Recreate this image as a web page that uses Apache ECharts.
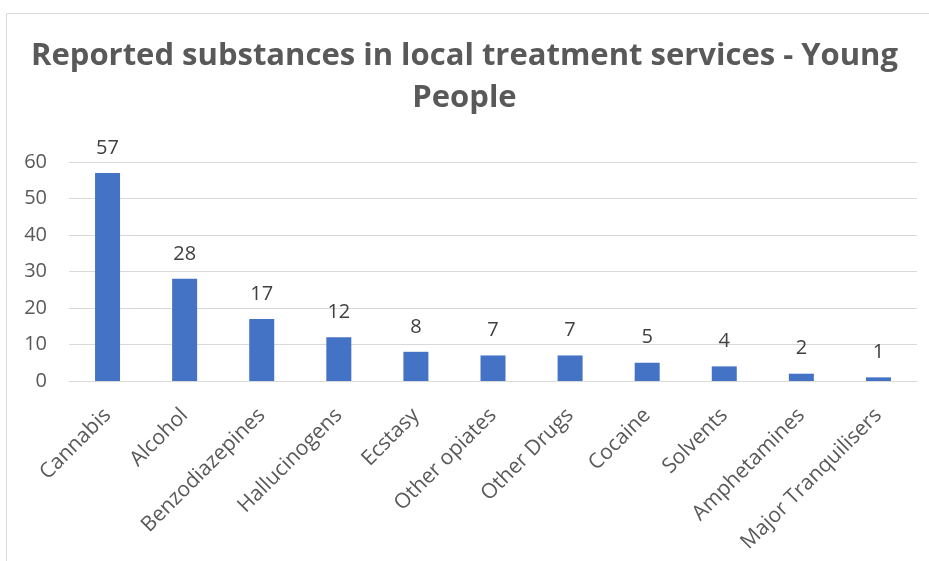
<!DOCTYPE html>
<html><head><meta charset="utf-8">
<script src="https://cdn.jsdelivr.net/npm/echarts@6/dist/echarts.min.js"></script>
<style>html,body{margin:0;padding:0;background:#fff}#c{width:929px;height:561px}</style>
</head><body><div id="c"></div>
<script>
const categories = ["Cannabis","Alcohol","Benzodiazepines","Hallucinogens","Ecstasy","Other opiates","Other Drugs","Cocaine","Solvents","Amphetamines","Major Tranquilisers"];
const values = [57,28,17,12,8,7,7,5,4,2,1];
const yTicks = [0,10,20,30,40,50,60];
const titleText = "Reported substances in local treatment services - Young\nPeople";

const chart = echarts.init(document.getElementById('c'), null, {renderer:'canvas'});
chart.setOption({
  animation:false,
  graphic:[{type:'rect', shape:{x:6.5,y:13.5,width:940,height:560}, style:{fill:'none',stroke:'#d9d9d9',lineWidth:1}, z:-1}],
  title:{text:titleText, left:'center', top:30, textStyle:{fontFamily:'Open Sans', fontWeight:'bold', fontSize:31, color:'#595959', lineHeight:42}},
  grid:{left:69, right:12, top:162, bottom:180},
  xAxis:{type:'category', data:categories,
    axisLine:{lineStyle:{color:'#d9d9d9', width:1}}, axisTick:{show:false},
    axisLabel:{rotate:45, interval:0, fontFamily:'Open Sans', fontSize:21, color:'#595959', margin:31}},
  yAxis:{type:'value', min:0, max:60, interval:10,
    axisLine:{show:false}, axisTick:{show:false},
    splitLine:{lineStyle:{color:'#d9d9d9', width:1}},
    axisLabel:{fontFamily:'Open Sans', fontSize:20, color:'#595959', margin:22,
      formatter:v=>yTicks.includes(v)?String(v):''}},
  series:[{type:'bar', data:values, barWidth:25, itemStyle:{color:'#4472c4'},
    label:{show:true, position:'top', distance:15, fontFamily:'Open Sans', fontSize:20, color:'#404040'}}]
});
</script></body></html>
